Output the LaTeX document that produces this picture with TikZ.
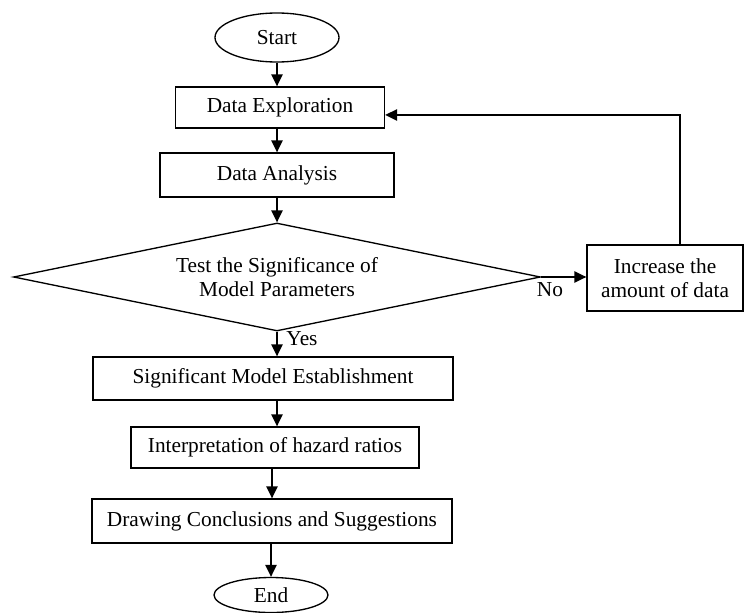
\documentclass[tikz,border=0pt]{standalone}
\usepackage{fontspec}
\setmainfont{Liberation Serif}
\usetikzlibrary{positioning,shapes.geometric,arrows.meta}

\begin{document}
\begin{tikzpicture}[x=0.75pt,y=-0.75pt,
    every node/.style={font=\fontsize{16}{18}\selectfont},
    caja/.style={draw, line width=1pt, inner sep=0pt, align=center},
    elipse/.style={draw, ellipse, line width=1pt, inner sep=0pt},
    decision/.style={draw, diamond, aspect=4.9, line width=1pt, inner sep=0pt, align=center},
    flecha/.style={line width=1.2pt, -{Triangle[length=9pt,width=8.5pt]}}]

    % Marco de la figura
    \useasboundingbox (0,0) rectangle (745,613);

    % Inicio y pasos
    \node[elipse, minimum width=93pt, minimum height=36.75pt] (start) at (277,37.5) {Start};
    \node[caja, minimum width=156.75pt, minimum height=30.75pt] (explora) at (280,107.5) {Data Exploration};
    \node[caja, minimum width=175.5pt, minimum height=33pt] (analisis) at (277,175) {Data Analysis};

    % Decision
    \node[decision, minimum width=395.25pt, minimum height=81pt] (test) at (277,277)
        {Test the Significance of\\Model Parameters};
    \node[caja, minimum width=117pt, minimum height=49.5pt] (aumento) at (665,278)
        {Increase the\\amount of data};

    % Resto del proceso
    \node[caja, minimum width=270pt, minimum height=32.25pt] (modelo) at (273,378.5) {Significant Model Establishment};
    \node[caja, minimum width=216pt, minimum height=30.75pt] (hazard) at (275,447.5) {Interpretation of hazard ratios};
    \node[caja, minimum width=270pt, minimum height=33pt] (conclu) at (272,521) {Drawing Conclusions and Suggestions};
    \node[elipse, minimum width=85.5pt, minimum height=26.25pt] (fin) at (271,595) {End};

    % Flechas
    \draw[flecha] (start) -- (start |- explora.north);
    \draw[flecha] (analisis |- explora.south) -- (analisis);
    \draw[flecha] (analisis) -- (test);
    \draw[flecha] (test) -- (test |- modelo.north);
    \draw[flecha] (test |- modelo.south) -- (test |- hazard.north);
    \draw[flecha] (conclu |- hazard.south) -- (conclu);
    \draw[flecha] (fin |- conclu.south) -- (fin);
    \draw[flecha] (test.east) -- (test.east -| aumento.west);
    \draw[flecha] ([xshift=11.25pt]aumento.north) |- ([yshift=-5.6pt]explora.east);

    % Etiquetas
    \node (no) at (550,290) {No};
    \node (si) at (302,339) {Yes};

\end{tikzpicture}
\end{document}
